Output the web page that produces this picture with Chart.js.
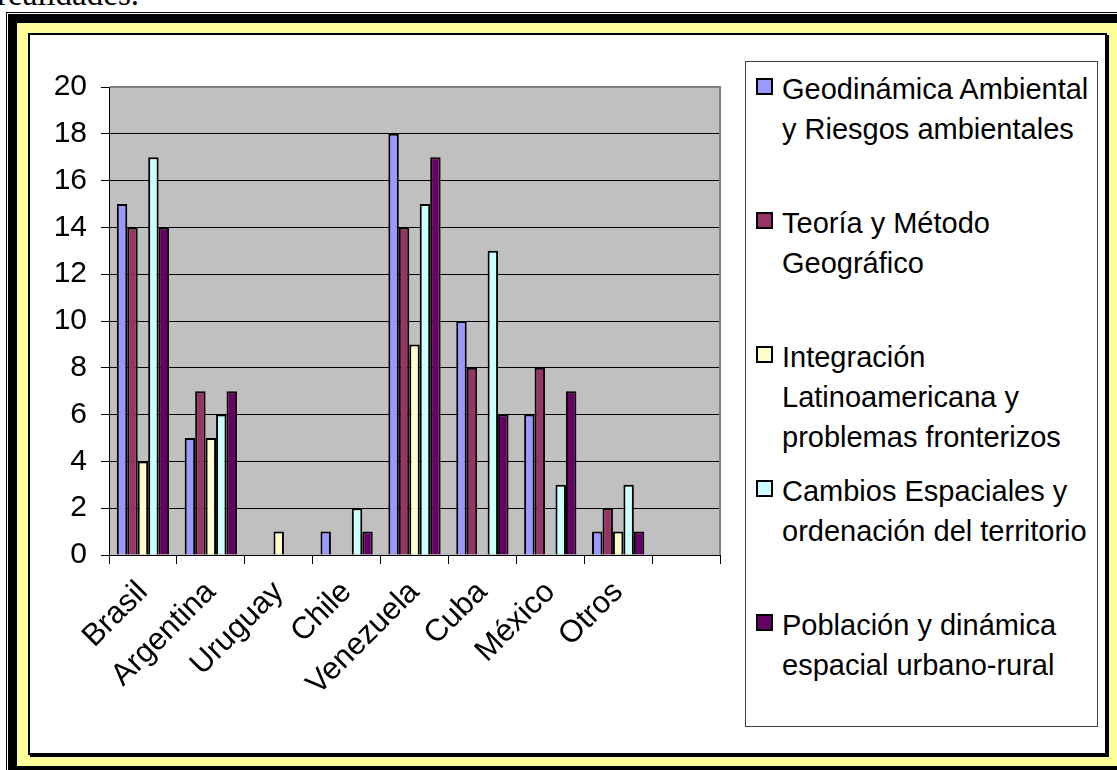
<!DOCTYPE html>
<html>
<head>
<meta charset="utf-8">
<script src="https://cdn.jsdelivr.net/npm/chart.js@4/dist/chart.umd.min.js"></script>
<style>
  html, body { margin: 0; padding: 0; background: #fff; }
  body { width: 1117px; height: 770px; position: relative; overflow: hidden; font-family: "Liberation Sans", Arial, sans-serif; }
  .doc-text { position: absolute; left: -3px; top: -24px; font-family: "Liberation Serif", "Times New Roman", serif; font-size: 33px; color: #000; }
  .thin { position: absolute; left: 6px; top: 12px; width: 1200px; height: 800px; border-left: 1px solid #000; border-top: 1px solid #000; }
  .thick { position: absolute; left: 8px; top: 14px; width: 1200px; height: 800px; background: #000; }
  .yellow { position: absolute; left: 17px; top: 23px; width: 1200px; height: 743px; background: #ffff99; }
  .inner { position: absolute; left: 28px; top: 33px; width: 1075px; height: 718px; background: #fff; border: 2px solid #000; box-shadow: 2px 2px 0 #000; }
  #wrap { position: absolute; left: 30px; top: 35px; width: 710px; height: 717px; }
  #legend { position: absolute; left: 745px; top: 61px; width: 351px; height: 664px; border: 1px solid #404040; background: #fff; }
  .item { position: absolute; left: 0; }
  .swatch { position: absolute; left: 10px; top: 9px; width: 13px; height: 13px; border: 2px solid #000; }
  .label { position: absolute; left: 36px; top: 0; font-size: 29px; line-height: 40px; white-space: nowrap; color: #000; }
</style>
</head>
<body>
<div class="doc-text">realidades.</div>
<div class="thin"></div>
<div class="thick"></div>
<div class="yellow"></div>
<div class="inner"></div>
<div id="wrap"><canvas id="chart" width="710" height="717"></canvas></div>
<div id="legend"></div>
<script>
// categories (last one is empty, as in the original sheet)
const categories = ['Brasil', 'Argentina', 'Uruguay', 'Chile', 'Venezuela', 'Cuba', 'México', 'Otros', ''];

// series values
const geodinamica = [15, 5, 0, 1, 18, 10, 6, 1, null];
const teoria      = [14, 7, 0, 0, 14, 8, 8, 2, null];
const integracion = [4, 5, 1, 0, 9, 0, 0, 1, null];
const cambios     = [17, 6, 0, 2, 15, 13, 3, 3, null];
const poblacion   = [14, 7, 0, 1, 17, 6, 7, 1, null];

// legend names, split into the lines used in the original
const seriesNames = [
  ['Geodinámica Ambiental', 'y Riesgos ambientales'],
  ['Teoría y Método', 'Geográfico'],
  ['Integración', 'Latinoamericana y', 'problemas fronterizos'],
  ['Cambios Espaciales y', 'ordenación del territorio'],
  ['Población y dinámica', 'espacial urbano-rural']
];
const seriesColors = ['#9999ff', '#993366', '#ffffcc', '#ccffff', '#660066'];
const seriesValues = [geodinamica, teoria, integracion, cambios, poblacion];

const yTicks = [0, 2, 4, 6, 8, 10, 12, 14, 16, 18, 20];

const FAMILY = '"Liberation Sans", Arial, sans-serif';

// gray plot background + gray top/right frame
const plotArea = {
  id: 'plotArea',
  beforeDraw(chart) {
    const { ctx, chartArea: a } = chart;
    ctx.save();
    ctx.fillStyle = '#c0c0c0';
    ctx.fillRect(a.left, a.top, a.right - a.left, a.bottom - a.top);
    ctx.restore();
  },
  afterDraw(chart) {
    const { ctx, chartArea: a } = chart;
    ctx.save();
    ctx.strokeStyle = '#808080';
    ctx.lineWidth = 2;
    ctx.beginPath();
    ctx.moveTo(a.left + 1, a.top);
    ctx.lineTo(a.right, a.top);
    ctx.lineTo(a.right, a.bottom);
    ctx.stroke();
    ctx.restore();
  }
};

const chart = new Chart(document.getElementById('chart'), {
  type: 'bar',
  data: {
    labels: categories,
    datasets: seriesValues.map((values, i) => ({
      label: seriesNames[i].join(' '),
      data: values,
      backgroundColor: seriesColors[i],
      borderColor: '#000',
      borderWidth: 2,
      categoryPercentage: 0.77,
      barPercentage: 1.0,
    })),
  },
  options: {
    responsive: false,
    animation: false,
    devicePixelRatio: 1,
    layout: { padding: { top: 52, right: 20, left: 0, bottom: 0 } },
    plugins: {
      legend: { display: false },
      tooltip: { enabled: false },
    },
    scales: {
      x: {
        afterFit(scale) { scale.height = 197; },
        grid: {
          offset: true,
          drawOnChartArea: false,
          drawTicks: true,
          tickLength: 9,
          color: '#000',
        },
        border: { color: '#000', width: 1 },
        ticks: {
          autoSkip: false,
          minRotation: 45,
          maxRotation: 45,
          color: '#000',
          font: { family: FAMILY, size: 31 },
          padding: 10,
        },
      },
      y: {
        min: 0,
        max: 20,
        afterFit(scale) { scale.width = 79; },
        afterBuildTicks(scale) { scale.ticks = yTicks.map(v => ({ value: v })); },
        grid: {
          color: ctx => (ctx.tick && ctx.tick.value === 20) ? '#808080' : '#000',
          tickColor: '#000',
          tickLength: 8,
        },
        border: { color: '#000', width: 1 },
        ticks: {
          color: '#000',
          font: { family: FAMILY, size: 30 },
          padding: 14,
        },
      },
    },
  },
  plugins: [plotArea],
});

// legend box, built from the datasets
const legend = document.getElementById('legend');
chart.data.datasets.forEach((ds, i) => {
  const item = document.createElement('div');
  item.className = 'item';
  item.style.top = (7 + 134 * i) + 'px';
  const sw = document.createElement('div');
  sw.className = 'swatch';
  sw.style.background = ds.backgroundColor;
  const lab = document.createElement('div');
  lab.className = 'label';
  lab.innerHTML = seriesNames[i].join('<br>');
  item.appendChild(sw);
  item.appendChild(lab);
  legend.appendChild(item);
});
</script>
</body>
</html>
